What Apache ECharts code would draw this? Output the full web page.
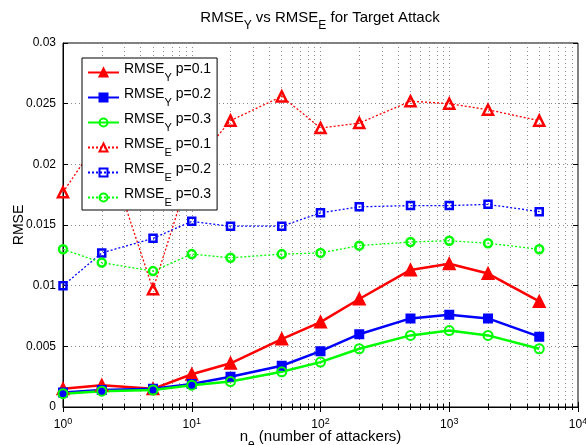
<!DOCTYPE html>
<html><head><meta charset="utf-8">
<script src="https://cdn.jsdelivr.net/npm/echarts@6/dist/echarts.min.js"></script>
<style>html,body{margin:0;padding:0;background:#fff}#c{width:586px;height:445px}</style>
</head><body><div id="c"></div>
<script>
const attackers = [1, 2, 5, 10, 20, 50, 100, 200, 500, 1000, 2000, 5000];
const rmseY_p01 = [0.0015, 0.0018, 0.0015, 0.0027, 0.0036, 0.0056, 0.0070, 0.0089, 0.0113, 0.0118, 0.0110, 0.0087];
const rmseY_p02 = [0.0012, 0.0014, 0.0015, 0.0019, 0.0025, 0.0034, 0.0046, 0.0060, 0.0073, 0.0076, 0.0073, 0.0058];
const rmseY_p03 = [0.0011, 0.0013, 0.0014, 0.0018, 0.0021, 0.0029, 0.0037, 0.0048, 0.0059, 0.0063, 0.0059, 0.0048];
const rmseE_p01 = [0.0177, 0.0224, 0.0097, 0.0198, 0.0236, 0.0256, 0.0230, 0.0234, 0.0252, 0.0250, 0.0245, 0.0236];
const rmseE_p02 = [0.0100, 0.0127, 0.0139, 0.0153, 0.0149, 0.0149, 0.0160, 0.0165, 0.0166, 0.0166, 0.0167, 0.0161];
const rmseE_p03 = [0.0130, 0.0119, 0.0112, 0.0126, 0.0123, 0.0126, 0.0127, 0.0133, 0.0136, 0.0137, 0.0135, 0.0130];
const seriesNames = ['RMSE_Y p=0.1', 'RMSE_Y p=0.2', 'RMSE_Y p=0.3', 'RMSE_E p=0.1', 'RMSE_E p=0.2', 'RMSE_E p=0.3'];

const FONT = '"Liberation Sans", Arial, Helvetica, sans-serif';
const pairs = arr => attackers.map((x, i) => [x, arr[i]]);

function subRich(fs) {
  return {
    m: {fontFamily: FONT, fontSize: fs, color: '#000', verticalAlign: 'top', lineHeight: fs + 1},
    s: {fontFamily: FONT, fontSize: fs - 3, color: '#000', verticalAlign: 'bottom', lineHeight: fs + 7}
  };
}
function fmtSub(name) {
  const m = name.match(/^(\w+)_(\w)(.*)$/);
  if (!m) return '{m|' + name + '}';
  return '{m|' + m[1] + '}{s|' + m[2] + '}{m|' + m[3] + '}';
}

function mk(name, data, color, solid, symbol, filled, size) {
  return {
    name: name, type: 'line', data: pairs(data), xAxisIndex: 0, yAxisIndex: 0,
    symbol: symbol, symbolSize: size,
    lineStyle: {color: color, width: solid ? 2.5 : 1.3, type: solid ? 'solid' : [2, 2]},
    itemStyle: {color: filled ? color : 'rgba(255,255,255,0)', borderColor: color, borderWidth: solid ? 2 : 2.5},
    emphasis: {disabled: true}, animation: false, z: solid ? 3 : 2
  };
}

const chart = echarts.init(document.getElementById('c'), null, {renderer: 'canvas'});
const gridColor = '#8a8a8a';
chart.setOption({
  animation: false,
  title: {
    text: '{m|RMSE}{s|Y}{m| vs RMSE}{s|E}{m| for Target Attack}',
    left: 320, top: 10, textAlign: 'center', padding: 0,
    textStyle: {fontFamily: FONT, fontSize: 15, fontWeight: 'normal', color: '#000', rich: subRich(15)}
  },
  grid: {left: 63, right: 8, top: 43, bottom: 38, outerBoundsMode: 'none', containLabel: false,
    show: true, borderColor: '#000', borderWidth: 1, backgroundColor: '#fff'},
  legend: {
    orient: 'vertical', left: 82, top: 58,
    padding: [4, 6, 2, 5], itemGap: 4, itemWidth: 31, itemHeight: 10,
    backgroundColor: '#fff', borderColor: '#000', borderWidth: 1,
    data: seriesNames,
    formatter: n => fmtSub(n),
    textStyle: {fontFamily: FONT, fontSize: 14, color: '#000', rich: subRich(14), padding: [0, 0, 0, 0]},
    selectedMode: false
  },
  xAxis: [{
    type: 'log', logBase: 10, min: 1, max: 10000, position: 'bottom',
    axisLine: {show: true, lineStyle: {color: '#000', width: 1}},
    axisTick: {show: true, inside: true, length: 5, lineStyle: {color: '#000'}},
    minorTick: {show: true, splitNumber: 9, length: 3, lineStyle: {color: '#000'}},
    splitLine: {show: true, lineStyle: {color: gridColor, type: [1, 3], width: 1}},
    minorSplitLine: {show: true, lineStyle: {color: gridColor, type: [1, 3], width: 1}},
    axisLabel: {
      margin: 10, verticalAlign: 'top',
      formatter: v => '{b|10}{p|' + Math.round(Math.log10(v)) + '}',
      rich: {
        b: {fontFamily: FONT, fontSize: 12, color: '#000', verticalAlign: 'bottom', lineHeight: 14, padding: [6, 0, 0, 0]},
        p: {fontFamily: FONT, fontSize: 9, color: '#000', verticalAlign: 'top', lineHeight: 10}
      }
    },
    name: '{m|n}{s|e}{m| (number of attackers)}', nameLocation: 'middle', nameGap: 22,
    nameMoveOverlap: false,
    nameTextStyle: {rich: subRich(15), verticalAlign: 'top'}
  }, {
    type: 'log', logBase: 10, min: 1, max: 10000, position: 'top',
    axisLine: {show: false},
    axisTick: {show: true, inside: true, length: 5, lineStyle: {color: '#000'}},
    minorTick: {show: true, splitNumber: 9, length: 3, lineStyle: {color: '#000'}},
    splitLine: {show: false}, axisLabel: {show: false}
  }],
  yAxis: [{
    type: 'value', min: 0, max: 0.03, interval: 0.005,
    axisLine: {show: true, lineStyle: {color: '#000'}},
    axisTick: {show: true, inside: true, length: 5, lineStyle: {color: '#000'}},
    splitLine: {show: true, lineStyle: {color: gridColor, type: [1, 3], width: 1}},
    axisLabel: {fontFamily: FONT, fontSize: 12, color: '#000', margin: 7},
    name: 'RMSE', nameLocation: 'middle', nameGap: 37, nameMoveOverlap: false,
    nameTextStyle: {fontFamily: FONT, fontSize: 14, color: '#000'}
  }, {
    type: 'value', min: 0, max: 0.03, interval: 0.005, position: 'right',
    axisLine: {show: false},
    axisTick: {show: true, inside: true, length: 5, lineStyle: {color: '#000'}},
    splitLine: {show: false}, axisLabel: {show: false}
  }],
  series: [
    mk(seriesNames[0], rmseY_p01, '#ff0000', true, 'triangle', true, 11),
    mk(seriesNames[1], rmseY_p02, '#0000ff', true, 'rect', true, 8),
    mk(seriesNames[2], rmseY_p03, '#00ff00', true, 'circle', false, 9),
    mk(seriesNames[3], rmseE_p01, '#ff0000', false, 'triangle', false, 10),
    mk(seriesNames[4], rmseE_p02, '#0000ff', false, 'rect', false, 7),
    mk(seriesNames[5], rmseE_p03, '#00ff00', false, 'circle', false, 8)
  ]
});
</script></body></html>
